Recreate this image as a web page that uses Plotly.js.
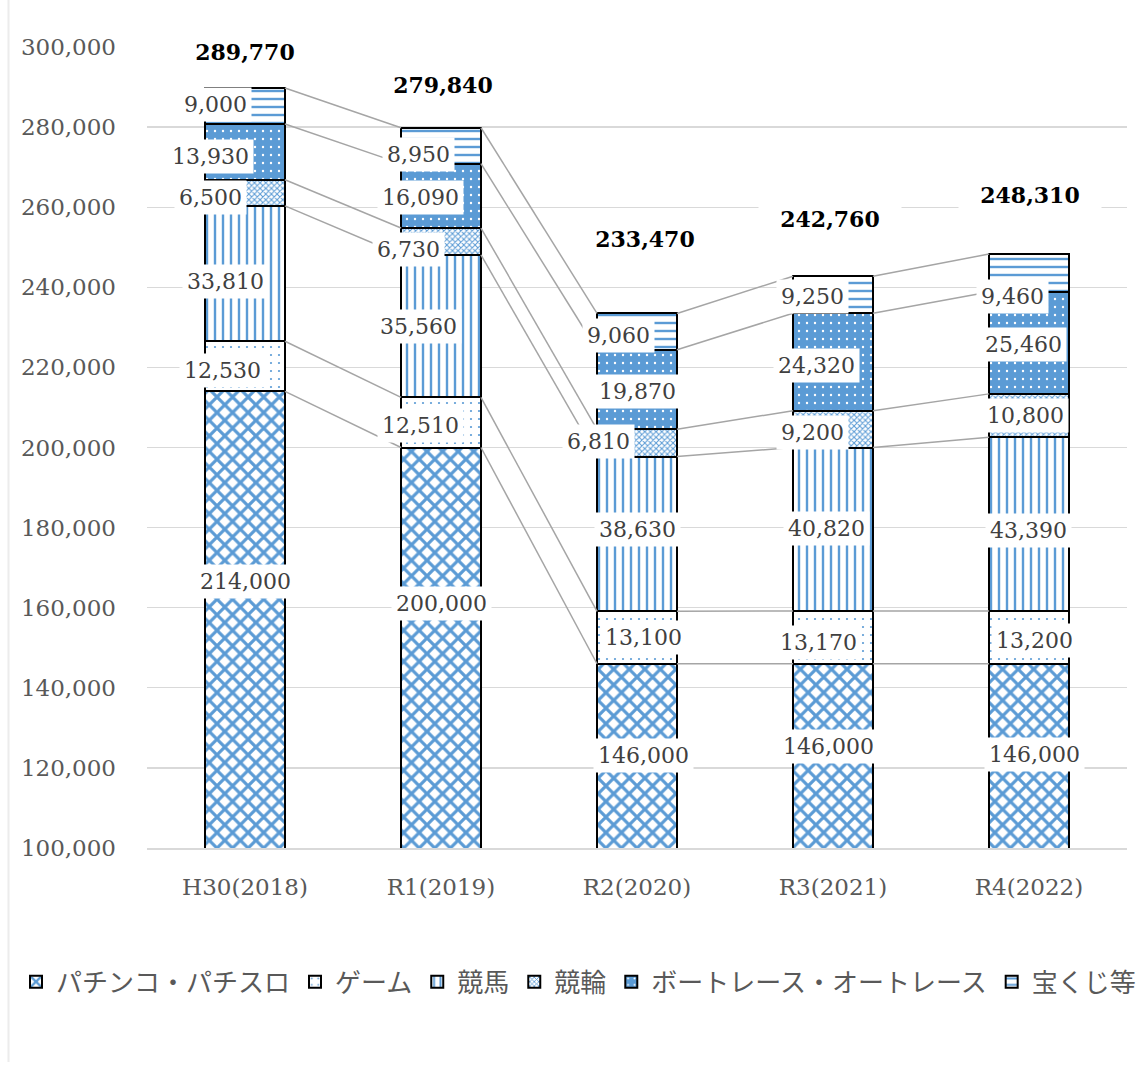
<!DOCTYPE html>
<html>
<head>
<meta charset="utf-8">
<script src="https://cdn.plot.ly/plotly-3.0.1.min.js"></script>
<style>
html,body{margin:0;padding:0;background:#fff;}
#chart{width:1142px;height:1066px;}
</style>
</head>
<body>
<div id="chart"></div>
<script>
// ---- data ----
const categories = ['H30(2018)', 'R1(2019)', 'R2(2020)', 'R3(2021)', 'R4(2022)'];
const seriesNames = ['パチンコ・パチスロ', 'ゲーム', '競馬', '競輪', 'ボートレース・オートレース', '宝くじ等'];
const pachinko   = [214000, 200000, 146000, 146000, 146000];
const game       = [12530, 12510, 13100, 13170, 13200];
const keiba      = [33810, 35560, 38630, 40820, 43390];
const keirin     = [6500, 6730, 6810, 9200, 10800];
const boat       = [13930, 16090, 19870, 24320, 25460];
const takarakuji = [9000, 8950, 9060, 9250, 9460];
const yTickVals  = [100000, 120000, 140000, 160000, 180000, 200000, 220000, 240000, 260000, 280000, 300000];

// ---- styling ----
const BLUE = '#5b9bd5';
const yMin = 100000, yMax = 300000;
const barWidth = 0.408;
const patterns = [
  {shape: 'x', size: 11, solidity: 0.5, fgcolor: BLUE, bgcolor: '#ffffff'},
  {shape: '.', size: 8, solidity: 0.06, fgcolor: BLUE, bgcolor: '#ffffff'},
  {shape: '|', size: 8, solidity: 0.3, fgcolor: BLUE, bgcolor: '#ffffff'},
  {shape: 'x', size: 4, solidity: 0.45, fgcolor: BLUE, bgcolor: '#ffffff'},
  {shape: '.', size: 8, solidity: 0.07, fgcolor: '#ffffff', bgcolor: BLUE},
  {shape: '-', size: 8, solidity: 0.3, fgcolor: BLUE, bgcolor: '#ffffff'}
];
// label offsets in pixels [bar][series]
const labelDx = [
  [0, -23, -20, -35, -35, -30],
  [0, -21, -23, -33, -21, -23],
  [6, 6, 0, -39, 0, -19],
  [-5, -15, -7, -21, -17, -21],
  [5, 5, -1, -4, -6, -17]
];
const labelDy = [
  [38, -4, -8, -5, -5, 1],
  [44, -3, 0, -8, -2, -9],
  [0, 0, 4, 1, -2, -4],
  [9, -5, 1, -3, -4, -2],
  [1, -3, -6, 0, -2, -24]
];
const totalDx = [0, 2, 8, -3, 1];
const totalDy = [36, 43, 74, 57, 59];

const series = [pachinko, game, keiba, keirin, boat, takarakuji];
const xIdx = categories.map((c, i) => i);

// cumulative tops
const cum = [];
series.forEach((vals, s) => {
  cum.push(vals.map((v, i) => (s === 0 ? 0 : cum[s - 1][i]) + v));
});
const totals = cum[cum.length - 1];

const traces = [];
series.forEach((vals, s) => {
  traces.push({
    type: 'bar',
    name: seriesNames[s],
    x: xIdx,
    y: vals,
    width: barWidth,
    marker: {
      color: patterns[s].bgcolor,
      line: {color: '#000000', width: 2},
      pattern: Object.assign({fillmode: 'replace'}, patterns[s])
    },
    hoverinfo: 'skip'
  });
});

// series connector lines
cum.forEach((tops, s) => {
  const lx = [], ly = [];
  for (let i = 0; i < tops.length - 1; i++) {
    lx.push(xIdx[i] + barWidth / 2, xIdx[i + 1] - barWidth / 2, null);
    ly.push(tops[i], tops[i + 1], null);
  }
  traces.push({
    type: 'scatter', mode: 'lines', x: lx, y: ly,
    line: {color: '#a5a5a5', width: 1.5},
    showlegend: false, hoverinfo: 'skip', cliponaxis: false
  });
});

// annotations (data labels)
const annotations = [];
series.forEach((vals, s) => {
  vals.forEach((v, i) => {
    const top = cum[s][i];
    const base = Math.max(yMin, top - v);
    annotations.push({
      x: xIdx[i], y: (base + top) / 2, xref: 'x', yref: 'y',
      text: v.toLocaleString('en-US'),
      showarrow: false,
      xshift: labelDx[i][s], yshift: labelDy[i][s],
      font: {family: 'DejaVu Serif', size: 22, color: '#404040'},
      bgcolor: '#ffffff', borderpad: 4
    });
  });
});
totals.forEach((t, i) => {
  annotations.push({
    x: xIdx[i], y: t, xref: 'x', yref: 'y',
    text: '<b>' + t.toLocaleString('en-US') + '</b>',
    showarrow: false,
    xshift: totalDx[i], yshift: totalDy[i],
    width: 140, height: 34,
    font: {family: 'DejaVu Serif', size: 22, color: '#000000'},
    bgcolor: '#ffffff'
  });
});

const layout = {
  width: 1142, height: 1066,
  margin: {l: 147, r: 15, t: 47, b: 218, autoexpand: false},
  paper_bgcolor: '#ffffff', plot_bgcolor: '#ffffff',
  barmode: 'stack',
  hovermode: false,
  showlegend: true,
  font: {family: 'DejaVu Serif', color: '#595959'},
  xaxis: {
    range: [-0.5, categories.length - 0.5],
    tickvals: xIdx, ticktext: categories,
    showgrid: false, zeroline: false,
    showline: true, linecolor: '#d9d9d9', linewidth: 1.5,
    ticks: '', ticklabelstandoff: 18,
    tickfont: {family: 'DejaVu Serif', size: 23, color: '#595959'}
  },
  yaxis: {
    range: [yMin, yMax],
    tickvals: yTickVals, tickformat: ',d',
    showgrid: true, gridcolor: '#d9d9d9', gridwidth: 1.3,
    zeroline: false, showline: false, ticks: '', ticklabelstandoff: 30,
    tickfont: {family: 'DejaVu Serif', size: 23, color: '#595959'}
  },
  legend: {
    orientation: 'h', x: (16 - 147) / 980, xanchor: 'left', y: -0.167, yanchor: 'middle',
    font: {family: 'Noto Sans CJK JP', size: 26, color: '#595959'},
    itemwidth: 30, traceorder: 'normal', bgcolor: 'rgba(0,0,0,0)'
  },
  annotations: annotations,
  shapes: [{
    type: 'line', xref: 'paper', yref: 'paper',
    x0: (8.5 - 147) / 980, x1: (8.5 - 147) / 980,
    y0: (848 - 0) / 801, y1: (848 - 1062) / 801,
    line: {color: '#ececec', width: 2}
  }]
};

Plotly.newPlot('chart', traces, layout, {displayModeBar: false, staticPlot: true});
</script>
</body>
</html>
